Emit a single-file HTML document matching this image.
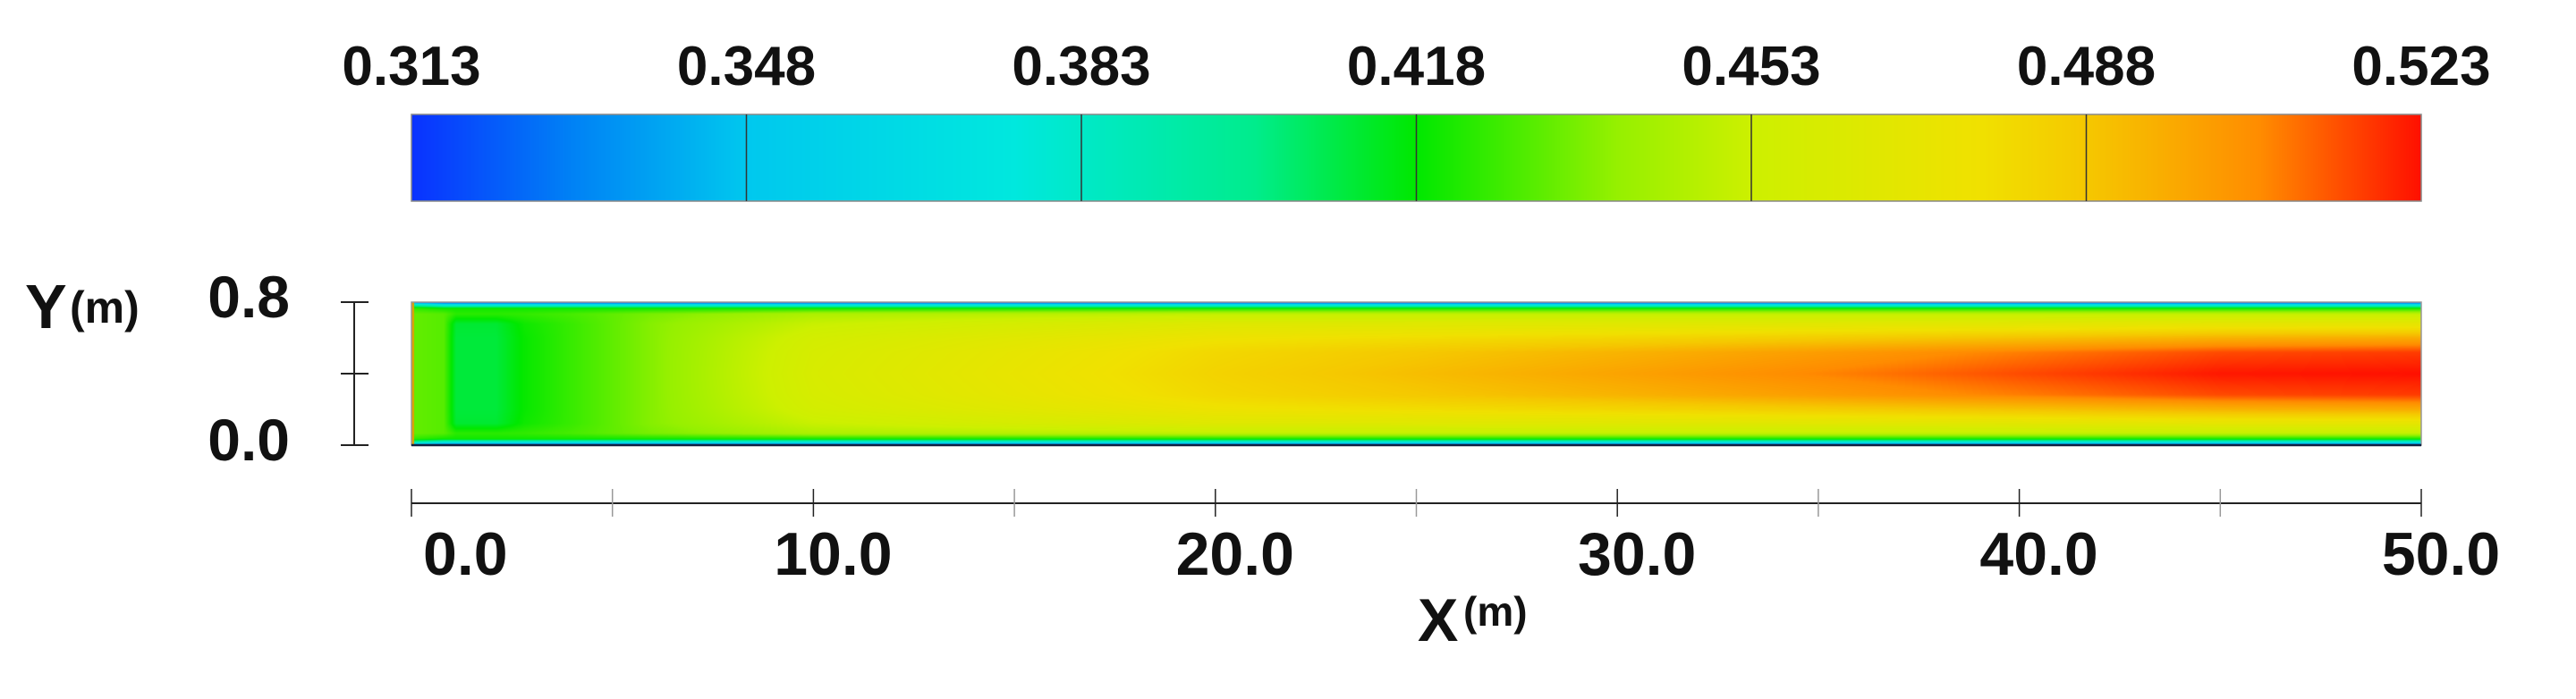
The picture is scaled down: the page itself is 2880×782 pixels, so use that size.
<!DOCTYPE html>
<html><head><meta charset="utf-8">
<style>
html,body{margin:0;padding:0;background:#fff;}
#wrap{position:relative;width:2880px;height:782px;overflow:hidden;background:#fff;}
canvas,svg{position:absolute;left:0;top:0;}
text{font-family:"Liberation Sans",sans-serif;font-weight:bold;fill:#111;}
</style></head>
<body>
<div id="wrap">
<canvas id="cv" width="2880" height="782"></canvas>
<svg id="sv" width="2880" height="782"></svg>
</div>
<script>
// ---- data ----
const cbTicks = [0.313, 0.348, 0.383, 0.418, 0.453, 0.488, 0.523];
const cbLabels = ["0.313","0.348","0.383","0.418","0.453","0.488","0.523"];
const xTicks = [0, 10, 20, 30, 40, 50];
const xTickLabels = ["0.0","10.0","20.0","30.0","40.0","50.0"];
const xMinorTicks = [5, 15, 25, 35, 45];
const yTicks = [0, 0.8];
const yTickLabels = ["0.0","0.8"];
const yMinorTicks = [0.4];
// field grid: x stations (m), distance-from-wall fractions, values [x][y]
const fieldX = [0, 0.8, 1.1, 2.1, 2.8, 4, 6, 10, 20, 30, 40, 45, 50];
const fieldYFrac = [0, 0.015, 0.04, 0.08, 0.15, 0.25, 0.35, 0.5];
const fieldVals = [
 [0.33,0.39,0.425,0.432,0.432,0.432,0.432,0.432],
 [0.32,0.37,0.42,0.430,0.430,0.430,0.430,0.430],
 [0.32,0.37,0.42,0.424,0.412,0.411,0.411,0.411],
 [0.32,0.37,0.42,0.424,0.412,0.411,0.411,0.411],
 [0.32,0.37,0.42,0.425,0.420,0.419,0.419,0.419],
 [0.32,0.37,0.42,0.428,0.426,0.426,0.426,0.426],
 [0.32,0.37,0.42,0.435,0.437,0.437,0.437,0.437],
 [0.32,0.37,0.42,0.445,0.452,0.457,0.459,0.460],
 [0.32,0.37,0.42,0.450,0.465,0.475,0.481,0.483],
 [0.32,0.37,0.42,0.450,0.466,0.482,0.494,0.499],
 [0.32,0.37,0.42,0.450,0.468,0.490,0.508,0.515],
 [0.32,0.37,0.42,0.450,0.470,0.495,0.515,0.522],
 [0.32,0.37,0.42,0.450,0.470,0.497,0.517,0.523]
];
// ---- layout ----
const CB = {l:460, r:2707, t:128, b:225};
const D = {l:460, r:2707, t:338, b:498};
const vmin = 0.313, vmax = 0.523, xMax = 50, yMax = 0.8;
const xs = v => D.l + (v/xMax)*(D.r-D.l);
const ys = v => D.b - (v/yMax)*(D.b-D.t);
const cbx = v => CB.l + (v-vmin)/(vmax-vmin)*(CB.r-CB.l);
const stops = [[0,[10,50,255]],[0.08,[0,130,245]],[0.167,[0,200,238]],[0.3,[0,232,222]],[0.42,[0,236,140]],[0.5,[0,232,0]],[0.6,[150,240,0]],[0.667,[205,240,0]],[0.78,[240,225,0]],[0.833,[245,200,0]],[0.92,[255,140,0]],[1,[255,16,0]]];
function cmap(v){
  let t=(v-vmin)/(vmax-vmin); t=Math.max(0,Math.min(1,t));
  for(let i=1;i<stops.length;i++){ if(t<=stops[i][0]){ const a=stops[i-1],b=stops[i]; const f=(t-a[0])/(b[0]-a[0]); return a[1].map((c,k)=>Math.round(c+(b[1][k]-c)*f)); } }
  return stops[stops.length-1][1];
}
function interp(arr, v){
  for(let i=1;i<arr.length;i++){ if(v<=arr[i]) return [i-1,(v-arr[i-1])/(arr[i]-arr[i-1])]; }
  return [arr.length-2,1];
}
const cv=document.getElementById('cv'), ctx=cv.getContext('2d');
const cbw=CB.r-CB.l, cbh=CB.b-CB.t;
const cbImg=ctx.createImageData(cbw,cbh);
for(let x=0;x<cbw;x++){ const c=cmap(vmin+(x/(cbw-1))*(vmax-vmin)); for(let y=0;y<cbh;y++){ const p=(y*cbw+x)*4; cbImg.data[p]=c[0];cbImg.data[p+1]=c[1];cbImg.data[p+2]=c[2];cbImg.data[p+3]=255; } }
ctx.putImageData(cbImg,CB.l,CB.t);
const fw=D.r-D.l, fh=D.b-D.t;
const fImg=ctx.createImageData(fw,fh);
for(let px=0;px<fw;px++){
  const xm=px/(fw-1)*xMax; const [i,fx]=interp(fieldX,xm);
  for(let py=0;py<fh;py++){
    let yf=py/(fh-1); let d=Math.min(yf,1-yf);
    const [j,fy]=interp(fieldYFrac,d);
    const v0=fieldVals[i][j]+(fieldVals[i][j+1]-fieldVals[i][j])*fy;
    const v1=fieldVals[i+1][j]+(fieldVals[i+1][j+1]-fieldVals[i+1][j])*fy;
    const c=cmap(v0+(v1-v0)*fx); const p=(py*fw+px)*4;
    fImg.data[p]=c[0];fImg.data[p+1]=c[1];fImg.data[p+2]=c[2];fImg.data[p+3]=255;
  }
}
ctx.putImageData(fImg,D.l,D.t);
ctx.fillStyle='#e0a000'; ctx.fillRect(D.l,D.t,3,fh);
// ---- svg ----
const NS='http://www.w3.org/2000/svg', sv=document.getElementById('sv');
function mk(tag,attrs,parent){const e=document.createElementNS(NS,tag);for(const k in attrs)e.setAttribute(k,attrs[k]);(parent||sv).appendChild(e);return e;}
let e;
e=mk('rect',{x:CB.l,y:CB.t,width:cbw,height:cbh,fill:'none',stroke:'#888','stroke-width':1.5});


cbTicks.forEach((v,i)=>{
  if(i>0&&i<cbTicks.length-1){
    e=mk('line',{x1:cbx(v),x2:cbx(v),y1:CB.t,y2:CB.b,stroke:'#333','stroke-width':1.5});
    
    
  }
  e=mk('text',{x:cbx(v),y:95,'font-size':62,'text-anchor':'middle'}); e.textContent=cbLabels[i];
  
  
});
e=mk('rect',{x:D.l,y:D.t,width:fw,height:fh,fill:'none',stroke:'#999','stroke-width':1.5});


e=mk('line',{x1:D.l,x2:D.r,y1:D.b,y2:D.b,stroke:'#102040','stroke-width':2.5});


// y axis
e=mk('line',{x1:396,x2:396,y1:ys(0),y2:ys(yMax),stroke:'#222','stroke-width':2});


yTicks.concat(yMinorTicks).forEach(v=>{
  e=mk('line',{x1:381,x2:412,y1:ys(v),y2:ys(v),stroke:'#222','stroke-width':2});
  
  
});
yTicks.forEach((v,i)=>{
  e=mk('text',{x:324,y:ys(v)+17,'font-size':66,'text-anchor':'end'}); e.textContent=yTickLabels[i];
  
  
});
e=mk('text',{x:28,y:367,'font-size':70}); e.textContent='Y';


e=mk('text',{x:78,y:361,'font-size':50}); e.textContent='(m)';


// x axis
e=mk('line',{x1:D.l,x2:D.r,y1:563,y2:563,stroke:'#222','stroke-width':2});


xTicks.forEach(v=>{
  e=mk('line',{x1:xs(v),x2:xs(v),y1:547,y2:578,stroke:'#222','stroke-width':1.5});
  
  
});
xMinorTicks.forEach(v=>{
  e=mk('line',{x1:xs(v),x2:xs(v),y1:547,y2:578,stroke:'#999','stroke-width':1.5});
  
  
});
xTicks.forEach((v,i)=>{
  const first = i===0;
  e=mk('text',{x:first?xs(v)+13:xs(v)+22,y:643,'font-size':68,'text-anchor':first?'start':'middle'}); e.textContent=xTickLabels[i];
  
  
});
e=mk('text',{x:1585,y:717,'font-size':68}); e.textContent='X';


e=mk('text',{x:1636,y:700,'font-size':46}); e.textContent='(m)';


</script>
</body></html>
